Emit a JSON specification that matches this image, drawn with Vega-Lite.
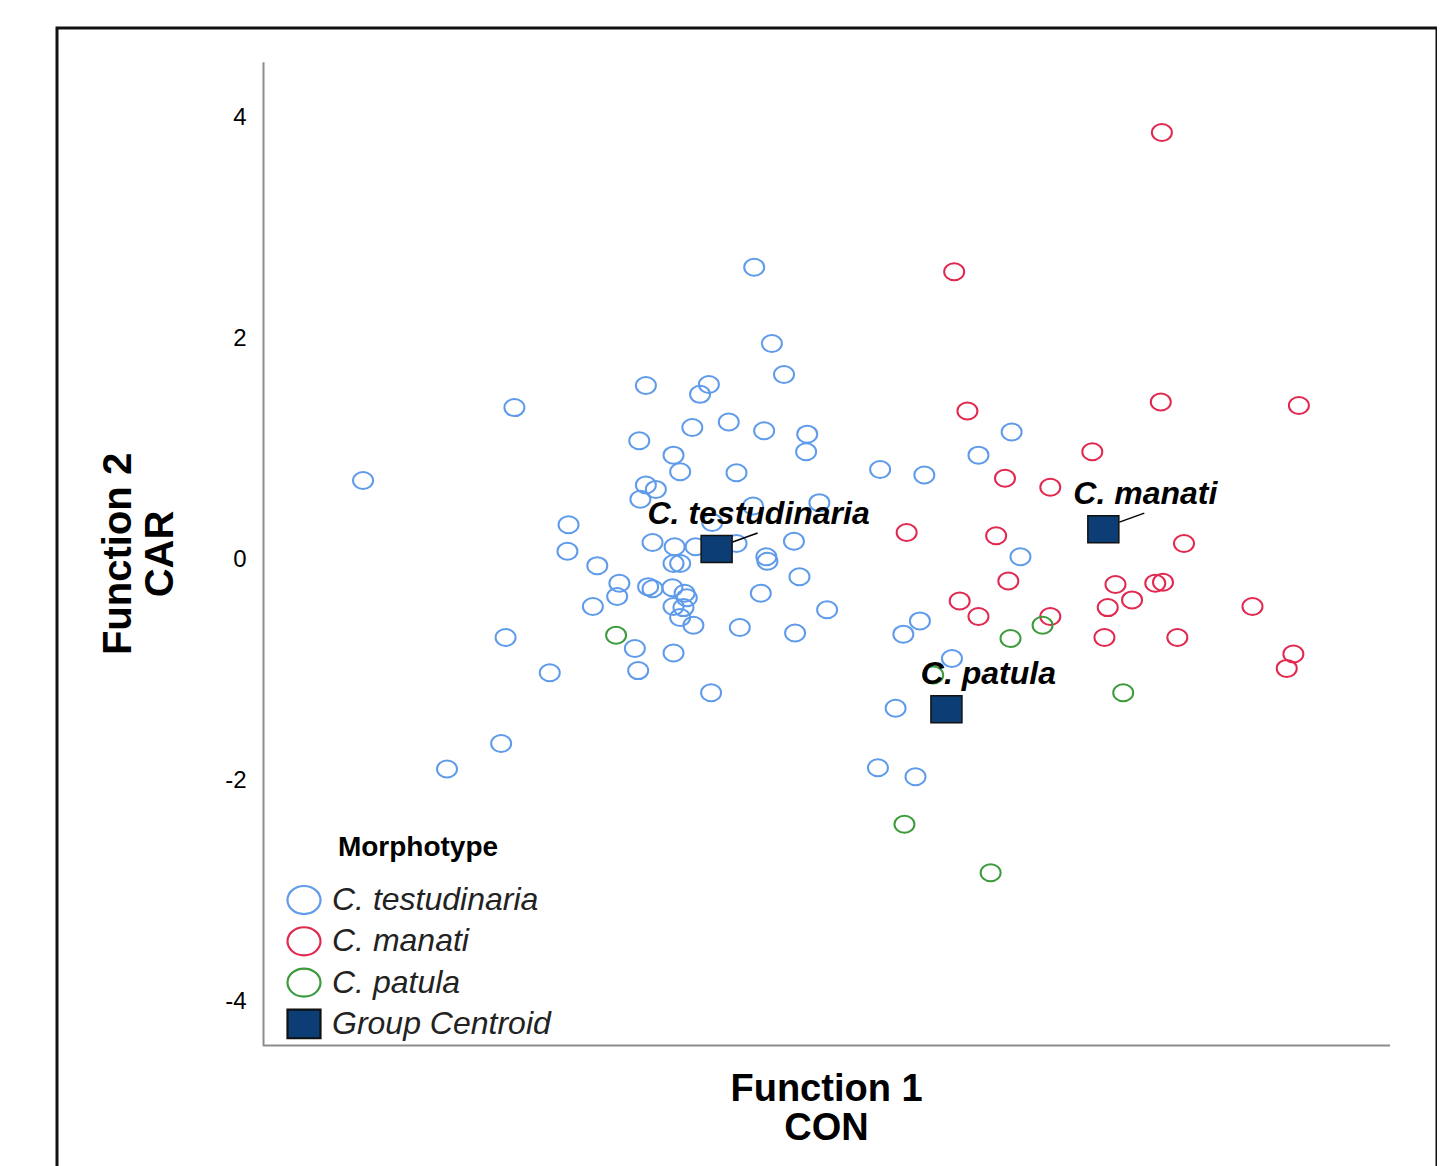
{
  "$schema": "https://vega.github.io/schema/vega-lite/v6.json",
  "width": 1380,
  "height": 1141,
  "padding": {"left": 57, "top": 28, "right": 0, "bottom": 0},
  "background": "white",
  "data": {"values": [
    {"group":"C. testudinaria","f1":-4.19,"f2":0.71},{"group":"C. testudinaria","f1":-2.82,"f2":1.37},{"group":"C. testudinaria","f1":-1.63,"f2":1.57},{"group":"C. testudinaria","f1":-1.06,"f2":1.58},{"group":"C. testudinaria","f1":-1.14,"f2":1.49},{"group":"C. testudinaria","f1":-0.65,"f2":2.64},{"group":"C. testudinaria","f1":-0.49,"f2":1.95},{"group":"C. testudinaria","f1":-0.38,"f2":1.67},{"group":"C. testudinaria","f1":-0.88,"f2":1.24},{"group":"C. testudinaria","f1":-1.21,"f2":1.19},{"group":"C. testudinaria","f1":-0.56,"f2":1.16},{"group":"C. testudinaria","f1":-0.17,"f2":1.13},{"group":"C. testudinaria","f1":-0.18,"f2":0.97},{"group":"C. testudinaria","f1":-1.69,"f2":1.07},{"group":"C. testudinaria","f1":-1.38,"f2":0.94},{"group":"C. testudinaria","f1":-1.32,"f2":0.79},{"group":"C. testudinaria","f1":-0.81,"f2":0.78},{"group":"C. testudinaria","f1":-1.63,"f2":0.67},{"group":"C. testudinaria","f1":-1.54,"f2":0.63},{"group":"C. testudinaria","f1":-1.68,"f2":0.54},{"group":"C. testudinaria","f1":-0.66,"f2":0.48},{"group":"C. testudinaria","f1":-0.06,"f2":0.51},{"group":"C. testudinaria","f1":0.49,"f2":0.81},{"group":"C. testudinaria","f1":0.89,"f2":0.76},{"group":"C. testudinaria","f1":1.38,"f2":0.94},{"group":"C. testudinaria","f1":1.68,"f2":1.15},{"group":"C. testudinaria","f1":-2.33,"f2":0.31},{"group":"C. testudinaria","f1":-2.34,"f2":0.07},{"group":"C. testudinaria","f1":-1.57,"f2":0.15},{"group":"C. testudinaria","f1":-1.37,"f2":0.11},{"group":"C. testudinaria","f1":-1.18,"f2":0.11},{"group":"C. testudinaria","f1":-1.03,"f2":0.33},{"group":"C. testudinaria","f1":-0.81,"f2":0.14},{"group":"C. testudinaria","f1":-0.54,"f2":0.02},{"group":"C. testudinaria","f1":-0.53,"f2":-0.02},{"group":"C. testudinaria","f1":-0.29,"f2":0.16},{"group":"C. testudinaria","f1":-1.38,"f2":-0.04},{"group":"C. testudinaria","f1":-1.32,"f2":-0.04},{"group":"C. testudinaria","f1":-2.07,"f2":-0.06},{"group":"C. testudinaria","f1":-1.87,"f2":-0.22},{"group":"C. testudinaria","f1":-1.89,"f2":-0.34},{"group":"C. testudinaria","f1":-1.61,"f2":-0.25},{"group":"C. testudinaria","f1":-1.57,"f2":-0.27},{"group":"C. testudinaria","f1":-1.39,"f2":-0.26},{"group":"C. testudinaria","f1":-1.28,"f2":-0.31},{"group":"C. testudinaria","f1":-1.26,"f2":-0.35},{"group":"C. testudinaria","f1":-2.11,"f2":-0.43},{"group":"C. testudinaria","f1":-1.38,"f2":-0.43},{"group":"C. testudinaria","f1":-1.29,"f2":-0.44},{"group":"C. testudinaria","f1":-1.32,"f2":-0.53},{"group":"C. testudinaria","f1":-1.2,"f2":-0.6},{"group":"C. testudinaria","f1":-0.59,"f2":-0.31},{"group":"C. testudinaria","f1":-0.24,"f2":-0.16},{"group":"C. testudinaria","f1":0.01,"f2":-0.46},{"group":"C. testudinaria","f1":-0.78,"f2":-0.62},{"group":"C. testudinaria","f1":-0.28,"f2":-0.67},{"group":"C. testudinaria","f1":-2.9,"f2":-0.71},{"group":"C. testudinaria","f1":-1.73,"f2":-0.81},{"group":"C. testudinaria","f1":-1.38,"f2":-0.85},{"group":"C. testudinaria","f1":-1.7,"f2":-1.01},{"group":"C. testudinaria","f1":-2.5,"f2":-1.03},{"group":"C. testudinaria","f1":-1.04,"f2":-1.21},{"group":"C. testudinaria","f1":1.76,"f2":0.02},{"group":"C. testudinaria","f1":0.85,"f2":-0.56},{"group":"C. testudinaria","f1":0.7,"f2":-0.68},{"group":"C. testudinaria","f1":1.14,"f2":-0.9},{"group":"C. testudinaria","f1":0.63,"f2":-1.35},{"group":"C. testudinaria","f1":0.47,"f2":-1.89},{"group":"C. testudinaria","f1":0.81,"f2":-1.97},{"group":"C. testudinaria","f1":-2.94,"f2":-1.67},{"group":"C. testudinaria","f1":-3.43,"f2":-1.9},
    {"group":"C. manati","f1":3.04,"f2":3.86},{"group":"C. manati","f1":1.16,"f2":2.6},{"group":"C. manati","f1":1.28,"f2":1.34},{"group":"C. manati","f1":3.03,"f2":1.42},{"group":"C. manati","f1":4.28,"f2":1.39},{"group":"C. manati","f1":2.41,"f2":0.97},{"group":"C. manati","f1":1.62,"f2":0.73},{"group":"C. manati","f1":2.03,"f2":0.65},{"group":"C. manati","f1":0.73,"f2":0.24},{"group":"C. manati","f1":1.54,"f2":0.21},{"group":"C. manati","f1":3.24,"f2":0.14},{"group":"C. manati","f1":1.65,"f2":-0.2},{"group":"C. manati","f1":2.62,"f2":-0.23},{"group":"C. manati","f1":2.98,"f2":-0.22},{"group":"C. manati","f1":3.05,"f2":-0.21},{"group":"C. manati","f1":2.77,"f2":-0.37},{"group":"C. manati","f1":1.21,"f2":-0.38},{"group":"C. manati","f1":2.55,"f2":-0.44},{"group":"C. manati","f1":3.86,"f2":-0.43},{"group":"C. manati","f1":1.38,"f2":-0.52},{"group":"C. manati","f1":2.03,"f2":-0.52},{"group":"C. manati","f1":2.52,"f2":-0.71},{"group":"C. manati","f1":3.18,"f2":-0.71},{"group":"C. manati","f1":4.23,"f2":-0.86},{"group":"C. manati","f1":4.17,"f2":-0.99},
    {"group":"C. patula","f1":-1.9,"f2":-0.69},{"group":"C. patula","f1":1.96,"f2":-0.6},{"group":"C. patula","f1":1.67,"f2":-0.72},{"group":"C. patula","f1":0.97,"f2":-1.05},{"group":"C. patula","f1":2.69,"f2":-1.21},{"group":"C. patula","f1":0.71,"f2":-2.4},{"group":"C. patula","f1":1.49,"f2":-2.84},
    {"group":"Group Centroid","label":"C. testudinaria","f1":-0.99,"f2":0.09},
    {"group":"Group Centroid","label":"C. manati","f1":2.51,"f2":0.27},
    {"group":"Group Centroid","label":"C. patula","f1":1.09,"f2":-1.36}
  ]},
  "encoding": {
    "x": {
      "field": "f1", "type": "quantitative",
      "scale": {"domain": [-5.1, 5.1], "range": [205.5, 1332.5], "nice": false, "zero": false},
      "axis": {
        "title": ["Function 1", "CON"], "labels": false, "ticks": false, "grid": false,
        "offset": -124, "domainColor": "#8c8c8c", "domainWidth": 2,
        "titleFont": "Liberation Sans", "titleFontSize": 38, "titleFontWeight": "bold", "titleColor": "black",
        "titleLineHeight": 39, "titlePadding": 25
      }
    },
    "y": {
      "field": "f2", "type": "quantitative",
      "scale": {"domain": [-4.4, 4.5], "range": [1017.2, 33.75], "nice": false, "zero": false},
      "axis": {
        "title": ["Function 2", "CAR"], "values": [-4, -2, 0, 2, 4], "ticks": false, "grid": false,
        "offset": -206, "domainColor": "#8c8c8c", "domainWidth": 2,
        "labelFont": "Liberation Sans", "labelFontSize": 24, "labelColor": "black", "labelPadding": 17,
        "labelExpr": "replace(datum.label, '−', '-')",
        "titleFont": "Liberation Sans", "titleFontSize": 40, "titleFontWeight": "bold", "titleColor": "black",
        "titleLineHeight": 42, "titlePadding": 44
      }
    }
  },
  "layer": [
    {
      "transform": [{"filter": "datum.group != 'Group Centroid'"}],
      "mark": {"type": "point", "size": 400, "strokeWidth": 2, "opacity": 1},
      "encoding": {
        "stroke": {"field": "group", "type": "nominal", "title": "Morphotype",
          "scale": {"domain": ["C. testudinaria", "C. manati", "C. patula", "Group Centroid"], "range": ["#5f9beb", "#e1284f", "#3c9b3c", "#111111"]}},
        "fill": {"field": "group", "type": "nominal", "title": "Morphotype",
          "scale": {"domain": ["C. testudinaria", "C. manati", "C. patula", "Group Centroid"], "range": ["transparent", "transparent", "transparent", "#0c3d74"]}},
        "shape": {"field": "group", "type": "nominal", "title": "Morphotype",
          "scale": {"domain": ["C. testudinaria", "C. manati", "C. patula", "Group Centroid"], "range": ["M-1,0A1,0.85,0,1,0,1,0A1,0.85,0,1,0,-1,0Z", "M-1,0A1,0.85,0,1,0,1,0A1,0.85,0,1,0,-1,0Z", "M-1,0A1,0.85,0,1,0,1,0A1,0.85,0,1,0,-1,0Z", "M-1,-0.87L1,-0.87L1,0.87L-1,0.87Z"]}}
      }
    },
    {
      "transform": [{"filter": "datum.group == 'Group Centroid'"}],
      "mark": {"type": "point", "size": 961, "strokeWidth": 1.5, "opacity": 1},
      "encoding": {
        "stroke": {"field": "group", "type": "nominal", "title": "Morphotype"},
        "fill": {"field": "group", "type": "nominal", "title": "Morphotype"},
        "shape": {"field": "group", "type": "nominal", "title": "Morphotype"}
      }
    },
    {
      "transform": [{"filter": "datum.label == 'C. testudinaria' || datum.label == 'C. manati'"}],
      "mark": {"type": "point", "shape": "M0.8,-0.35L2.05,-0.8", "size": 1600, "filled": false, "stroke": "black", "strokeWidth": 1.5, "opacity": 1},
      "encoding": {}
    },
    {
      "transform": [{"filter": "datum.group == 'Group Centroid'"}],
      "mark": {"type": "text", "font": "Liberation Sans", "fontSize": 32, "fontWeight": "bold", "fontStyle": "italic", "color": "black", "align": "center", "baseline": "alphabetic", "dx": 42, "dy": -25},
      "encoding": {"text": {"field": "label"}}
    }
  ],
  "config": {
    "view": {"stroke": "#111111", "strokeWidth": 3},
    "axis": {"grid": false},
    "legend": {
      "orient": "none", "legendX": 229, "legendY": 806, "padding": 0,
      "titleFont": "Liberation Sans", "titleFontSize": 28, "titleFontWeight": "bold", "titleColor": "black",
      "titleAnchor": "middle", "titlePadding": 20,
      "labelFont": "Liberation Sans", "labelFontSize": 32, "labelFontStyle": "italic", "labelColor": "#222222",
      "labelOffset": 10, "labelLimit": 400, "symbolSize": 1089, "symbolStrokeWidth": 2.2, "symbolOpacity": 1,
      "rowPadding": 3.3
    }
  }
}
